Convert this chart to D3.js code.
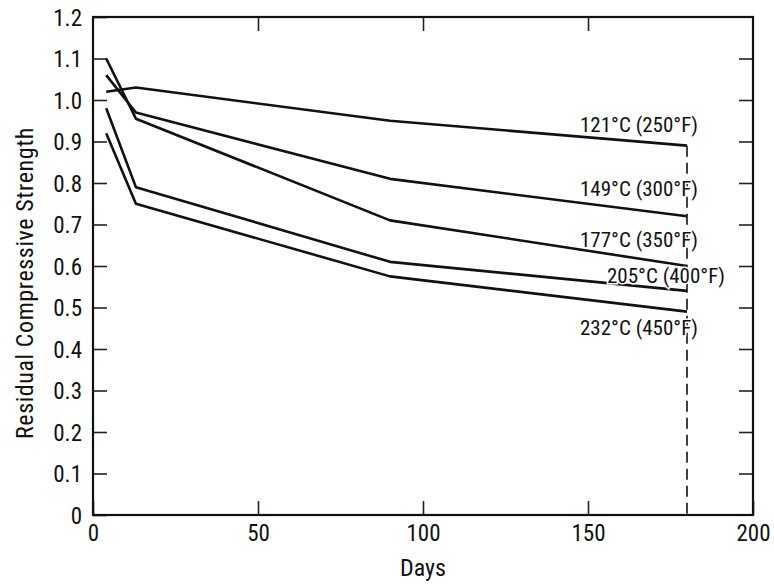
<!DOCTYPE html>
<html>
<head>
<meta charset="utf-8">
<script src="https://cdn.jsdelivr.net/npm/d3@7"></script>
<style>
  body { margin: 0; background: #fff; }
  svg text { font-family: "Liberation Sans Narrow", "Roboto Condensed", "Liberation Sans", Arial, sans-serif; fill: #111; }
</style>
</head>
<body>
<div id="chart"></div>
<script>
// 数据
const days = [4, 13, 90, 180];
const s121 = [1.02, 1.03, 0.95, 0.89];
const s149 = [1.06, 0.97, 0.81, 0.72];
const s177 = [1.10, 0.955, 0.71, 0.60];
const s205 = [0.98, 0.79, 0.61, 0.54];
const s232 = [0.92, 0.75, 0.575, 0.49];
const seriesNames = ['121°C (250°F)', '149°C (300°F)', '177°C (350°F)', '205°C (400°F)', '232°C (450°F)'];
const xTicks = [0, 50, 100, 150, 200];
const yTicks = [0, 0.1, 0.2, 0.3, 0.4, 0.5, 0.6, 0.7, 0.8, 0.9, 1.0, 1.1, 1.2];

const series = [s121, s149, s177, s205, s232];

// 标签相对终点的偏移
const labelOffsets = [[11, -21], [11, -28], [11, -26], [38, -15], [11, 16]];

const W = 774, H = 584;
const margin = {top: 17, right: 21, bottom: 69, left: 93};
const width = W - margin.left - margin.right;
const height = H - margin.top - margin.bottom;

const svg = d3.select('#chart').append('svg')
    .attr('width', W).attr('height', H);
const g = svg.append('g').attr('transform', `translate(${margin.left},${margin.top})`);

const x = d3.scaleLinear().domain([0, 200]).range([0, width]);
const y = d3.scaleLinear().domain([0, 1.2]).range([height, 0]);

const tickLen = 14;

// 刻度（四边向内）
g.append('g')
    .attr('transform', `translate(0,${height})`)
    .call(d3.axisBottom(x).tickValues(xTicks).tickSize(-tickLen).tickPadding(10).tickFormat(d3.format('d')))
    .call(a => a.select('.domain').remove())
    .call(a => a.selectAll('line').attr('stroke', '#222').attr('stroke-width', 1.6))
    .selectAll('text').style('font-size', '23px').attr('fill', '#111');

g.append('g')
    .call(d3.axisTop(x).tickValues(xTicks.slice(1, -1)).tickSize(-tickLen).tickFormat(''))
    .call(a => a.select('.domain').remove())
    .call(a => a.selectAll('line').attr('stroke', '#222').attr('stroke-width', 1.6));

g.append('g')
    .call(d3.axisLeft(y).tickValues(yTicks).tickSize(-tickLen).tickPadding(11)
        .tickFormat(d => d === 0 ? '0' : d3.format('.1f')(d)))
    .call(a => a.select('.domain').remove())
    .call(a => a.selectAll('line').attr('stroke', '#222').attr('stroke-width', 1.6))
    .selectAll('text').style('font-size', '23px').attr('fill', '#111').attr('dy', '0.36em');

g.append('g')
    .attr('transform', `translate(${width},0)`)
    .call(d3.axisRight(y).tickValues(yTicks.slice(1, -1)).tickSize(-tickLen).tickFormat(''))
    .call(a => a.select('.domain').remove())
    .call(a => a.selectAll('line').attr('stroke', '#222').attr('stroke-width', 1.6));

// 外框
g.append('rect')
    .attr('width', width).attr('height', height)
    .attr('fill', 'none').attr('stroke', '#111').attr('stroke-width', 2.2);

// 180天虚线
g.append('line')
    .attr('x1', x(days[days.length - 1])).attr('x2', x(days[days.length - 1]))
    .attr('y1', y(s121[s121.length - 1])).attr('y2', y(0))
    .attr('stroke', '#111').attr('stroke-width', 1.6)
    .attr('stroke-dasharray', '11,6');

// 曲线
const line = d3.line().x((d, i) => x(days[i])).y(d => y(d));
g.selectAll('.series')
    .data(series)
    .enter()
    .append('path')
    .attr('class', 'series')
    .attr('d', line)
    .attr('fill', 'none')
    .attr('stroke', '#111')
    .attr('stroke-width', 2.6)
    .attr('stroke-linejoin', 'round');

// 曲线标签
g.selectAll('.series-label')
    .data(series)
    .enter()
    .append('text')
    .attr('class', 'series-label')
    .attr('x', (d, i) => x(days[days.length - 1]) + labelOffsets[i][0])
    .attr('y', (d, i) => y(d[d.length - 1]) + labelOffsets[i][1])
    .attr('dy', '0.35em')
    .attr('text-anchor', 'end')
    .style('font-size', '21px')
    .style('paint-order', 'stroke')
    .style('stroke', '#fff')
    .style('stroke-width', '3px')
    .text((d, i) => seriesNames[i]);

// 轴标题
g.append('text')
    .attr('x', width / 2)
    .attr('y', height + 61)
    .attr('text-anchor', 'middle')
    .style('font-size', '24px')
    .text('Days');

g.append('text')
    .attr('transform', 'rotate(-90)')
    .attr('x', -(height / 2) - 17)
    .attr('y', -60)
    .attr('text-anchor', 'middle')
    .style('font-size', '24px')
    .style('letter-spacing', '0.6px')
    .text('Residual Compressive Strength');
</script>
</body>
</html>
